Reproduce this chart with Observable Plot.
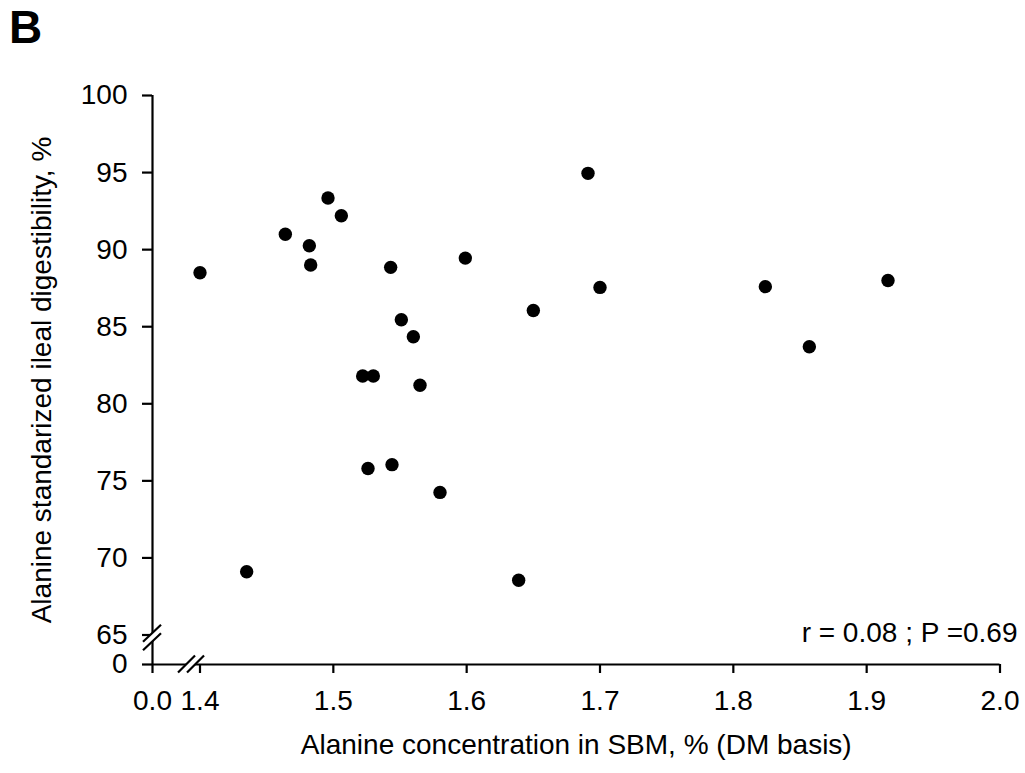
<!DOCTYPE html>
<html><head><meta charset="utf-8">
<script src="https://cdn.jsdelivr.net/npm/d3@7"></script>
<script src="https://cdn.jsdelivr.net/npm/@observablehq/plot@0.6"></script>
<style>
body{margin:0;background:#fff;font-family:Arial,"Liberation Sans",sans-serif;}
#wrap{position:relative;width:1025px;height:773px;}
#panel{position:absolute;left:9px;top:4px;font-size:46px;line-height:1;font-weight:bold;color:#000;}
#chart{position:absolute;left:0;top:0;}
</style></head><body><div id="wrap"><div id="chart"></div><div id="panel">B</div></div>
<script>
const alaConc = [1.400, 1.435, 1.464, 1.482, 1.483, 1.496, 1.506, 1.522, 1.530, 1.526, 1.544, 1.543, 1.551, 1.560, 1.565, 1.580, 1.599, 1.650, 1.639, 1.691, 1.700, 1.824, 1.857, 1.916];
const alaSID  = [88.5, 69.1, 91.0, 90.25, 89.0, 93.35, 92.2, 81.8, 81.8, 75.8, 76.05, 88.85, 85.45, 84.35, 81.2, 74.25, 89.45, 86.05, 68.55, 94.95, 87.55, 87.6, 83.7, 88.0];
const xTicks = [0, 1.4, 1.5, 1.6, 1.7, 1.8, 1.9, 2.0];
const yTicks = [0, 65, 70, 75, 80, 85, 90, 95, 100];
const xLabel = "Alanine concentration in SBM, % (DM basis)";
const yLabel = "Alanine standarized ileal digestibility, %";
const statText = "r = 0.08 ; P =0.69";
const xBreak = 1.15;
const yBreak = 58.4;

const data = alaConc.map((x, i) => ({x, y: alaSID[i]}));

function breakMarks(index, scales) {
  const ns = "http://www.w3.org/2000/svg";
  const g = document.createElementNS(ns, "g");
  const x0 = scales.x(0), y0 = scales.y(0);
  const bx = scales.x(xBreak), by = scales.y(yBreak);
  function el(tag, attrs) {
    const e = document.createElementNS(ns, tag);
    for (const k in attrs) e.setAttribute(k, attrs[k]);
    g.appendChild(e);
  }
  const s = 8.5, o = 4.5;
  el("polygon", {points: `${bx - o - s},${y0 + s} ${bx - o + s},${y0 - s} ${bx + o + s},${y0 - s} ${bx + o - s},${y0 + s}`, fill: "#fff"});
  el("line", {x1: bx - o - s, y1: y0 + s, x2: bx - o + s, y2: y0 - s, stroke: "#000", "stroke-width": 2.2});
  el("line", {x1: bx + o - s, y1: y0 + s, x2: bx + o + s, y2: y0 - s, stroke: "#000", "stroke-width": 2.2});
  const o2 = 4.2;
  el("polygon", {points: `${x0 - 9},${by - o2 + s} ${x0 + 9},${by - o2 - s} ${x0 + 9},${by + o2 - s} ${x0 - 9},${by + o2 + s}`, fill: "#fff"});
  el("line", {x1: x0 - 9, y1: by - o2 + s, x2: x0 + 9, y2: by - o2 - s, stroke: "#000", "stroke-width": 2.2});
  el("line", {x1: x0 - 9, y1: by + o2 + s, x2: x0 + 9, y2: by + o2 - s, stroke: "#000", "stroke-width": 2.2});
  return g;
}

const chart = Plot.plot({
  width: 1025,
  height: 773,
  marginLeft: 152,
  marginRight: 25.5,
  marginTop: 95,
  marginBottom: 109,
  style: {fontFamily: "Arial, 'Liberation Sans', sans-serif", fontSize: "28px", color: "#000", background: "transparent", overflow: "visible"},
  x: {type: "linear", domain: [0, 1.4, 2.0], range: [152, 199.5, 999.5]},
  y: {type: "linear", domain: [0, 65, 100], range: [664, 634.5, 95]},
  marks: [
    Plot.ruleX([0], {stroke: "#000", strokeWidth: 2.2}),
    Plot.ruleY([0], {stroke: "#000", strokeWidth: 2.2}),
    Plot.axisX({ticks: xTicks, tickFormat: d => d.toFixed(1), tickSize: 9, tickPadding: 17, label: null, strokeWidth: 2.2, fontSize: 28}),
    Plot.axisY({ticks: yTicks, tickFormat: d => String(d), tickSize: 10, tickPadding: 15, label: null, strokeWidth: 2.2, fontSize: 28}),
    breakMarks,
    Plot.dot(data, {x: "x", y: "y", r: 6.7, fill: "#000", stroke: "none"}),
    Plot.text([statText], {text: d => d, frameAnchor: "bottom-right", textAnchor: "end", lineAnchor: "middle", dx: 17.5, dy: -31, fontSize: 28}),
    Plot.text([xLabel], {text: d => d, frameAnchor: "bottom", textAnchor: "middle", lineAnchor: "middle", dy: 81, fontSize: 28}),
    Plot.text([yLabel], {text: d => d, frameAnchor: "left", textAnchor: "middle", lineAnchor: "middle", rotate: -90, dx: -110, fontSize: 28})
  ]
});
document.getElementById("chart").appendChild(chart);
</script>
</body></html>
